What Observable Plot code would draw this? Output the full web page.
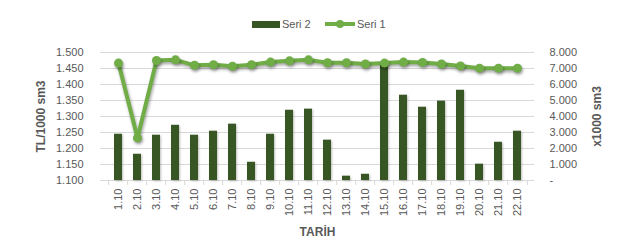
<!DOCTYPE html>
<html>
<head>
<meta charset="utf-8">
<script src="https://cdn.jsdelivr.net/npm/d3@7"></script>
<script src="https://cdn.jsdelivr.net/npm/@observablehq/plot@0.6"></script>
<style>
  html, body { margin: 0; padding: 0; background: #fff; }
  #wrap { position: relative; width: 626px; height: 243px; font-family: "Liberation Sans", Arial, sans-serif; }
  #wrap svg { position: absolute; left: 0; top: 0; }
  #legend { position: absolute; left: 0; top: 16px; width: 626px; height: 16px; font-size: 11px; color: #595959; }
  .lg { position: absolute; top: 0; line-height: 16px; }
  g[aria-label="line"], g[aria-label="dot"] { filter: drop-shadow(1px 2px 1.5px rgba(0,0,0,0.35)); }
  g[aria-label="bar"] { filter: drop-shadow(1px 1px 1px rgba(0,0,0,0.25)); }
</style>
</head>
<body>
<div id="wrap">
  <div id="legend"></div>
</div>
<script>
const categories = ["1.10","2.10","3.10","4.10","5.10","6.10","7.10","8.10","9.10","10.10","11.10","12.10","13.10","14.10","15.10","16.10","17.10","18.10","19.10","20.10","21.10","22.10"];
const seri1 = [1.467, 1.233, 1.475, 1.477, 1.460, 1.462, 1.457, 1.462, 1.470, 1.474, 1.477, 1.468, 1.468, 1.464, 1.467, 1.470, 1.469, 1.464, 1.458, 1.451, 1.451, 1.451];
const seri2 = [2890, 1640, 2830, 3450, 2830, 3080, 3520, 1140, 2890, 4390, 4460, 2520, 270, 390, 7300, 5330, 4580, 4960, 5640, 1020, 2390, 3080];
const leftTicks = [1.10, 1.15, 1.20, 1.25, 1.30, 1.35, 1.40, 1.45, 1.50];
const rightTicks = [0, 1000, 2000, 3000, 4000, 5000, 6000, 7000, 8000];
const seriesNames = ["Seri 2", "Seri 1"];
const axisTitles = {left: "TL/1000 sm3", right: "x1000 sm3", x: "TARİH"};

const barColor = "#375623";
const lineColor = "#70AD47";
const textColor = "#595959";
const gridColor = "#D9D9D9";

const W = 626, H = 243;
const mL = 100, mR = 92, mT = 52, mB = 63;
const step = (W - mL - mR) / categories.length;

const rows = categories.map((c, i) => ({cat: c, s1: seri1[i], s2: seri2[i]}));
const fmtThousands = d => d === 0 ? "-" : d3.format(",.0f")(d).replace(/,/g, ".");

const common = {
  width: W, height: H,
  marginLeft: mL, marginRight: mR, marginTop: mT, marginBottom: mB,
  style: {fontFamily: "'Liberation Sans', Arial, sans-serif", fontSize: "11px", color: textColor, background: "transparent", overflow: "visible"}
};
const xBand = {type: "band", domain: categories, paddingInner: 0.6, paddingOuter: 0.3};

// Bars chart (right axis)
const bars = Plot.plot({
  ...common,
  x: xBand,
  y: {domain: [0, 8000]},
  marks: [
    Plot.ruleY(rightTicks, {stroke: gridColor, strokeWidth: 1}),
    Plot.barY(rows, {x: "cat", y: "s2", fill: barColor}),
    Plot.axisY({anchor: "right", ticks: rightTicks, tickFormat: fmtThousands, tickSize: 0, tickPadding: 15, fill: textColor,
      label: axisTitles.right, labelAnchor: "center", labelArrow: "none", labelOffset: 66}),
    Plot.axisX({tickSize: 5, tickFormat: () => "", dx: -step / 2, stroke: gridColor, label: null}),
    Plot.axisX([categories[categories.length - 1]], {tickSize: 5, tickFormat: () => "", dx: step / 2, stroke: gridColor, label: null}),
    Plot.axisX({tickSize: 0, tickRotate: -90, tickPadding: 8, fill: textColor,
      label: axisTitles.x, labelAnchor: "center", labelArrow: "none", labelOffset: 55})
  ]
});

// Line chart (left axis)
const line = Plot.plot({
  ...common,
  x: {...xBand, axis: null},
  y: {domain: [1.10, 1.50]},
  marks: [
    Plot.axisY({anchor: "left", ticks: leftTicks, tickFormat: d => d.toFixed(3), tickSize: 0, tickPadding: 17, fill: textColor,
      label: axisTitles.left, labelAnchor: "center", labelArrow: "none", labelOffset: 64}),
    Plot.lineY(rows, {x: "cat", y: "s1", stroke: lineColor, strokeWidth: 4, strokeLinejoin: "round"}),
    Plot.dot(rows, {x: "cat", y: "s1", r: 4.5, fill: lineColor, stroke: "none"})
  ]
});

const wrap = document.getElementById("wrap");
wrap.appendChild(bars);
wrap.appendChild(line);

// axis titles bold
for (const svg of [bars, line]) {
  svg.querySelectorAll('g[aria-label="y-axis label"] text, g[aria-label="x-axis label"] text').forEach(t => {
    t.setAttribute("font-weight", "bold");
    t.setAttribute("font-size", "12px");
  });
}

// legend
const legend = document.getElementById("legend");
legend.innerHTML = `
  <div class="lg" style="left:252px;top:4.5px;width:28px;height:7px;background:${barColor}"></div>
  <div class="lg" style="left:282px">${seriesNames[0]}</div>
  <svg style="position:absolute;left:324px;top:0" width="32" height="16"><line x1="1" y1="8" x2="31" y2="8" stroke="${lineColor}" stroke-width="4"/><circle cx="16" cy="8" r="4" fill="${lineColor}"/></svg>
  <div class="lg" style="left:357px">${seriesNames[1]}</div>`;
</script>
</body>
</html>
